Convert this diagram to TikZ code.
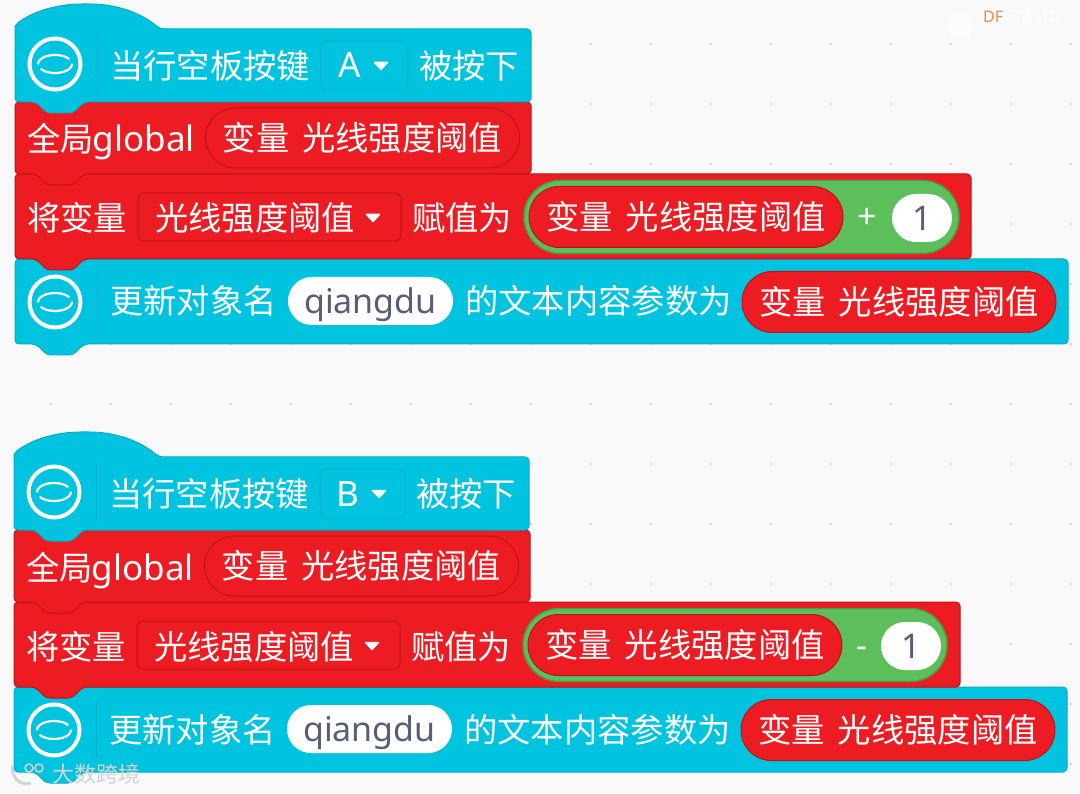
\documentclass[tikz,border=0pt]{standalone}
\usepackage{fontspec}
\setmainfont{Noto Sans}
\newfontfamily\cjk{Noto Sans CJK SC}
\usetikzlibrary{shapes.misc,shapes.geometric}
\definecolor{bgc}{HTML}{F9F9F9}
\definecolor{cy}{HTML}{00C4DF}
\definecolor{cyd}{HTML}{00AEC6}
\definecolor{rd}{HTML}{ED1C22}
\definecolor{rdd}{HTML}{B8151B}
\definecolor{gr}{HTML}{5CBF5B}
\definecolor{grd}{HTML}{4AA04A}
\definecolor{ink}{HTML}{575E75}
\definecolor{wmk}{HTML}{CFD5D7}
\definecolor{dforange}{HTML}{E58A50}
\tikzset{
 x=1pt,y=-1pt,
 cyanblock/.style={fill=cy,draw=cyd,line width=1pt,rounded corners=4pt},
 redblock/.style={fill=rd,draw=rdd,line width=1pt,rounded corners=4pt},
 lab/.style={anchor=base west,inner sep=0pt,text=white,font=\cjk\fontsize{33.3}{33}\selectfont},
 pillbase/.style={rounded rectangle,inner sep=0pt,text height=27pt,text depth=2pt,align=center},
 redpill/.style={pillbase,fill=rd,draw=rdd,line width=1pt,text=white,font=\cjk\fontsize{33.3}{33}\selectfont},
 whitepill/.style={pillbase,fill=white,draw=none,text=ink,font=\fontsize{34}{33}\selectfont},
 greenpill/.style={rounded rectangle,inner sep=0pt,fill=gr,draw=grd,line width=1.5pt},
 ddcyan/.style={rectangle,rounded corners=6pt,fill=cy,draw=cyd,line width=1pt,inner sep=0pt},
 ddred/.style={rectangle,rounded corners=6pt,fill=rd,draw=rdd,line width=1pt,inner sep=0pt},
 caret/.style={fill=white,draw=white,line width=1.5pt,line join=round},
 iconline/.style={draw=white,line width=4pt},
 ringline/.style={draw=white,line width=2.2pt},
 sepline/.style={draw=cyd,line width=1pt},
 griddot/.style={fill=black!22,draw=none},
}
\newcommand{\tabblock}[5]{%
 \draw[#1] (#5,#3) -- (#2,#3) -- (#2,#4) -- (84,#4) -- (73,#4+11) -- (47,#4+11) -- (36,#4) -- (#5,#4) -- cycle;}
\newcommand{\icon}[3]{%
 \coordinate (#1) at (#2,#3);
 \draw[iconline] (#1) circle [radius=25.5pt];
 \draw[ringline] ([shift={(32:17pt and 9pt)}]#1) arc [start angle=32,end angle=182,x radius=17pt,y radius=9pt];
 \draw[ringline] ([shift={(212:17pt and 9pt)}]#1) arc [start angle=212,end angle=362,x radius=17pt,y radius=9pt];
 \draw[sepline] (97,#3-29) -- (97,#3+29);}
\newcommand{\caretat}[2]{\draw[caret] (#1-6.5,#2-3.5) -- (#1+6.5,#2-3.5) -- (#1,#2+3.5) -- cycle;}
\newcommand{\gcjk}{变量\hspace{13pt}光线强度阈值}
\newcommand{\script}[9]{%
 \tabblock{cyanblock}{\lastxB}{259}{344}{15}
 \node[lab] (#1t7) at (110,314) {更新对象名};
 \icon{#1i2}{55}{302}
 \node[whitepill,minimum width=165pt,minimum height=48pt] (#1q) at (370.5,301) {qiangdu};
 \node[lab] (#1t8) at (465,314) {的文本内容参数为};
 \node[redpill,minimum width=314pt,minimum height=61pt] (#1v3) at (899,302) {\gcjk};
 \tabblock{redblock}{\lastxA}{174}{259}{15}
 \node[lab] (#1t4) at (27,231) {将变量};
 \node[ddred,minimum width=263pt,minimum height=48pt] (#1dd2) at (269.5,217) {};
 \node[lab] (#1t5) at (155,231) {光线强度阈值};
 \caretat{373}{218}
 \node[lab] (#1t6) at (412,231) {赋值为};
 \node[greenpill,minimum width=#7pt,minimum height=73pt] (#1g) at (524+#7/2,217) {};
 \node[redpill,minimum width=314pt,minimum height=61pt] (#1v2) at (686,217) {\gcjk};
 \node[anchor=base,inner sep=0pt,text=white,font=\fontsize{34}{30}\selectfont] (#1op) at (#8,229) {\opsym};
 \node[whitepill,minimum width=60pt,minimum height=48pt] (#1one) at (#9,218) {1};
 \tabblock{redblock}{531}{102}{174}{15}
 \node[lab] (#1t2) at (27,152) {全局\hspace{-1pt}{\rmfamily\fontsize{35}{33}\selectfont global}};
 \node[redpill,minimum width=314pt,minimum height=60pt] (#1v1) at (362.5,138) {\gcjk};
 \draw[cyanblock] (15,29) -- (15,25) .. controls (35,10) and (60,4) .. (86,4) .. controls (115,4) and (140,12) .. (160,29) -- (#6,29) -- (#6,102) -- (84,102) -- (73,113) -- (47,113) -- (36,102) -- (15,102) -- cycle;
 \icon{#1i1}{55}{64}
 \node[lab] (#1t1) at (110,79) {当行空板按键};
 \node[ddcyan,minimum width=#4-321,minimum height=49pt] (#1dd1) at ({(321+#4)/2},65.5) {};
 \node[anchor=base,inner sep=0pt,text=white,font=\fontsize{35}{33}\selectfont] (#1k) at (#3,78) {#2};
 \caretat{#3+31}{66}
 \node[lab] (#1t3) at (#5,79) {被按下};
}
\begin{document}
\begin{tikzpicture}
\useasboundingbox (0,0) rectangle (1080,794);
\fill[bgc] (0,0) rectangle (1080,794);
\foreach \gx in {51,111,...,1071}
 \foreach \gy in {44,104,...,764}
  \fill[griddot] (\gx,\gy) circle [radius=1.2pt];
% top-right watermark
\node[regular polygon,regular polygon sides=6,minimum size=30pt,fill=white,opacity=.6,draw=none,inner sep=0pt] (dflogo) at (960,25) {};
\node[anchor=base west,inner sep=0pt,text=white,font=\cjk\fontsize{15}{15}\selectfont] (dfb) at (1005,23) {创客社区};
\node[anchor=base west,inner sep=0pt,text=dforange,font=\bfseries\fontsize{16}{16}\selectfont] (dfa) at (983,23) {DF};
\def\lastxA{971}\def\lastxB{1068}\def\opsym{+}
\script{a}{A}{350}{408}{419}{531}{435}{867}{922}
\begin{scope}[shift={(-1,428)}]
\def\lastxA{961}\def\lastxB{1068}\def\opsym{-}
\script{b}{B}{349}{406}{417}{530}{424}{863}{912}
\end{scope}
% bottom-left watermark
\draw[wmk,line width=3pt] (12,766) .. controls (12,780) and (22,786) .. (31,783);
\draw[wmk,line width=1.5pt] (29,768) circle [radius=4pt] (39,768) circle [radius=4pt];
\node[anchor=base west,inner sep=0pt,text=wmk,font=\cjk\fontsize{22}{22}\selectfont] (wm) at (52,782) {大数跨境};
\end{tikzpicture}
\end{document}
